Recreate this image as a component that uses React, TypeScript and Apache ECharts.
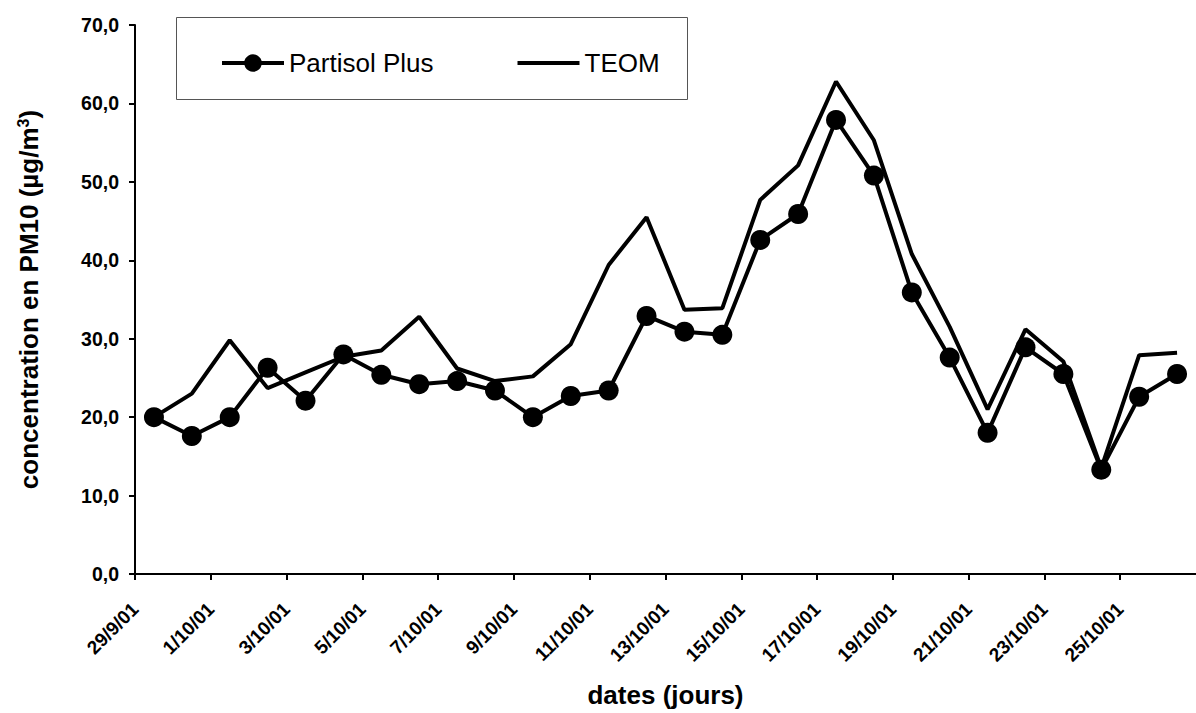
import React, { useEffect, useRef } from "react";
import * as echarts from "echarts";

const dates = [
  "29/9/01", "30/9/01", "1/10/01", "2/10/01", "3/10/01", "4/10/01", "5/10/01",
  "6/10/01", "7/10/01", "8/10/01", "9/10/01", "10/10/01", "11/10/01", "12/10/01",
  "13/10/01", "14/10/01", "15/10/01", "16/10/01", "17/10/01", "18/10/01", "19/10/01",
  "20/10/01", "21/10/01", "22/10/01", "23/10/01", "24/10/01", "25/10/01", "26/10/01",
];

const partisol = [
  20.0, 17.6, 20.0, 26.3, 22.1, 28.0, 25.4, 24.2, 24.6, 23.4, 20.0, 22.7, 23.4, 32.9,
  30.9, 30.5, 42.6, 45.9, 57.9, 50.8, 35.9, 27.6, 18.0, 28.9, 25.5, 13.3, 22.6, 25.5,
];

const teom = [
  20.0, 23.0, 29.8, 23.7, 25.7, 27.7, 28.5, 32.8, 26.2, 24.6, 25.2, 29.3, 39.4, 45.5,
  33.7, 33.9, 47.7, 52.1, 62.8, 55.3, 40.8, 31.5, 21.0, 31.2, 27.1, 13.5, 27.9, 28.2,
];

const seriesNames = ["Partisol Plus", "TEOM"];
const xTitle = "dates (jours)";
const yTitle = "concentration en PM10 (µg/m{sup|3})";

const FONT = "'Liberation Sans', Arial, Helvetica, sans-serif";

export default function App() {
  const ref = useRef<HTMLDivElement>(null);

  useEffect(() => {
    if (!ref.current) return;
    const chart = echarts.init(ref.current, null, { renderer: "svg" });
    const toPts = (arr: number[]) => arr.map((v, i) => [i + 0.5, v]);

    chart.setOption({
      animation: false,
      backgroundColor: "#ffffff",
      textStyle: { fontFamily: FONT },
      graphic: [
        {
          type: "rect",
          left: 176,
          top: 17,
          shape: { width: 511, height: 82 },
          style: { fill: "#ffffff", stroke: "#555555", lineWidth: 1 },
          z: 0,
        },
      ],
      legend: {
        left: 220,
        top: 50,
        itemWidth: 62,
        itemHeight: 22,
        itemGap: 82,
        padding: 0,
        lineStyle: { width: 4, color: "#000" },
        textStyle: { fontSize: 26, color: "#000", fontFamily: FONT },
        data: [
          { name: seriesNames[0] },
          { name: seriesNames[1], itemStyle: { opacity: 0 } },
        ],
        z: 5,
      },
      grid: { left: 135, right: -7, top: 25, bottom: 138 },
      xAxis: {
        type: "value",
        min: 0,
        max: 28,
        interval: 2,
        name: xTitle,
        nameLocation: "middle",
        nameGap: 108,
        nameTextStyle: { fontSize: 26, fontWeight: "bold", color: "#000", fontFamily: FONT },
        axisLine: { show: true, lineStyle: { color: "#000", width: 2 } },
        axisTick: { show: true, length: 6, lineStyle: { color: "#000", width: 2 } },
        splitLine: { show: false },
        axisLabel: {
          rotate: 45,
          margin: 32,
          fontSize: 19,
          fontWeight: "bold",
          color: "#000",
          fontFamily: FONT,
          showMaxLabel: false,
          formatter: (v: number) => (Number.isInteger(v) && dates[v] ? dates[v] : ""),
        },
      },
      yAxis: {
        type: "value",
        min: 0,
        max: 70,
        interval: 10,
        name: yTitle,
        nameLocation: "middle",
        nameRotate: 90,
        nameGap: 92,
        nameTextStyle: {
          fontSize: 26,
          fontWeight: "bold",
          color: "#000",
          fontFamily: FONT,
          rich: {
            sup: {
              fontSize: 16,
              fontWeight: "bold",
              color: "#000",
              fontFamily: FONT,
              verticalAlign: "top",
              padding: [0, 0, 12, 0],
            },
          },
        },
        axisLine: { show: true, lineStyle: { color: "#000", width: 2 } },
        axisTick: { show: true, length: 6, lineStyle: { color: "#000", width: 2 } },
        splitLine: { show: false },
        axisLabel: {
          margin: 16,
          fontSize: 19.5,
          fontWeight: "bold",
          color: "#000",
          fontFamily: FONT,
          formatter: (v: number) => v.toFixed(1).replace(".", ","),
        },
      },
      series: [
        {
          name: seriesNames[0],
          type: "line",
          data: toPts(partisol),
          symbol: "circle",
          symbolSize: 20,
          showSymbol: true,
          color: "#000",
          itemStyle: { color: "#000" },
          lineStyle: { color: "#000", width: 4 },
          z: 3,
        },
        {
          name: seriesNames[1],
          type: "line",
          data: toPts(teom),
          symbol: "none",
          showSymbol: false,
          color: "#000",
          lineStyle: { color: "#000", width: 4 },
          z: 2,
        },
      ],
    });

    return () => chart.dispose();
  }, []);

  return (
    <div
      ref={ref}
      style={{ position: "fixed", left: 0, top: 0, width: 1196, height: 713, background: "#fff" }}
    />
  );
}
